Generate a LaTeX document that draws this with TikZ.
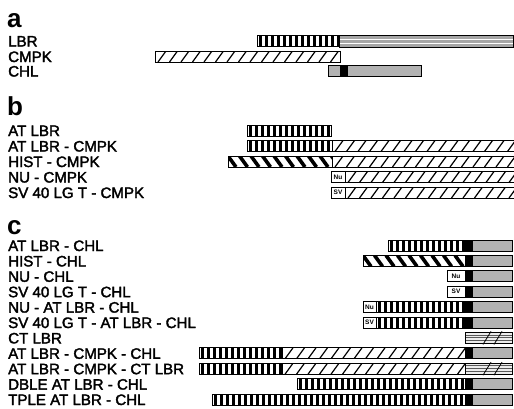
\documentclass[tikz,border=0pt]{standalone}
\usepackage{fontspec}
\setmainfont{Liberation Sans}
\newfontfamily\labfont[FakeBold=2.2]{Liberation Sans}
\tikzset{
  segline/.style={draw=black, line width=0.7pt},
  lab/.style={anchor=base west, inner sep=0pt, font=\labfont\fontsize{15.1}{15.5}\selectfont},
  panel/.style={anchor=base west, inner sep=0pt, font=\bfseries\fontsize{26}{27}\selectfont},
  tag/.style={inner sep=0pt, font=\bfseries\fontsize{6.5}{7}\selectfont}
}
% vertical stripes (AT LBR)
\newcommand\SegV[3]{%
  \begin{scope}
  \clip (#1,#3-5.5) rectangle (#2,#3+5.5);
  \fill[white] (#1,#3-5.5) rectangle (#2,#3+5.5);
  \pgfmathtruncatemacro\segN{(#2-#1)/6+1}
  \foreach \i in {0,...,\segN} \fill[black] (#1+2+6*\i,#3-5.5) rectangle ++(3.2,11);
  \end{scope}
  \draw[segline] (#1,#3-5.5) rectangle (#2,#3+5.5);}
% thin slashes (CMPK)
\newcommand\SegD[3]{%
  \begin{scope}
  \clip (#1,#3-5.5) rectangle (#2,#3+5.5);
  \fill[white] (#1,#3-5.5) rectangle (#2,#3+5.5);
  \pgfmathtruncatemacro\segN{(#2-#1)/11.5+1}
  \foreach \i in {-1,...,\segN} \draw[line width=1.2pt] (#1+3+11.5*\i,#3+5.5) -- ++(8,-11);
  \end{scope}
  \draw[segline] (#1,#3-5.5) rectangle (#2,#3+5.5);}
% thick back-slashes (HIST)
\newcommand\SegH[3]{%
  \begin{scope}
  \clip (#1,#3-5.5) rectangle (#2,#3+5.5);
  \fill[white] (#1,#3-5.5) rectangle (#2,#3+5.5);
  \pgfmathtruncatemacro\segN{(#2-#1)/11.5+1}
  \foreach \i in {-1,...,\segN} \draw[line width=3.6pt] (#1+11.5*\i,#3-5.5) -- ++(8,11);
  \end{scope}
  \draw[segline] (#1,#3-5.5) rectangle (#2,#3+5.5);}
% grey (CHL)
\newcommand\SegG[3]{%
  \fill[gray!60] (#1,#3-5.5) rectangle (#2,#3+5.5);
  \draw[segline] (#1,#3-5.5) rectangle (#2,#3+5.5);}
% black box
\newcommand\SegK[3]{%
  \fill[black] (#1,#3-5.5) rectangle (#2,#3+5.5);}
% grey with white lines (LBR C-terminal)
\newcommand\SegL[3]{%
  \fill[gray!70] (#1,#3-6) rectangle (#2,#3+6);
  \draw[white, line width=1pt] (#1,#3-1.5) -- (#2,#3-1.5);
  \draw[white, line width=0.7pt] (#1,#3+2) -- (#2,#3+2);
  \draw[segline] (#1,#3-6) rectangle (#2,#3+6);}
% CT LBR
\newcommand\SegC[3]{%
  \fill[gray!15] (#1,#3-5.5) rectangle (#2,#3+5.5);
  \foreach \d in {-2.8,0,2.8} \draw[gray!70!black, line width=0.9pt] (#1,#3+\d) -- (#2,#3+\d);
  \draw[segline] (#1,#3-5.5) rectangle (#2,#3+5.5);
  \draw[line width=0.8pt] (#1+18,#3+6.5) -- ++(8,-13);
  \draw[line width=0.8pt] (#1+29,#3+6.5) -- ++(8,-13);}
% labelled box (Nu / SV)
\newcommand\SegT[4]{%
  \fill[white] (#1,#3-5.5) rectangle (#2,#3+5.5);
  \draw[segline] (#1,#3-5.5) rectangle (#2,#3+5.5);
  \node[tag] at ({(#1+#2)/2},#3) {#4};}
\begin{document}
\begin{tikzpicture}[x=1pt,y=-1pt]
\useasboundingbox (0,0) rectangle (514,408);
\fill[white] (0,0) rectangle (514,408);
\begin{scope}
\clip (0,0) rectangle (514,408);
% ---------- panel a
\node[panel] (pa) at (7,27) {a};
\node[lab] (la1) at (8,46.5) {LBR};
\node[lab] (la2) at (8,62) {CMPK};
\node[lab] (la3) at (8,76.5) {CHL};
\SegL{339}{513}{41}
\SegV{257}{339}{41}
\SegD{155}{340}{56.5}
\SegG{328}{421}{71}
\SegK{340}{348}{71}
% ---------- panel b
\node[panel] (pb) at (7,115) {b};
\node[lab] (lb1) at (8,136) {AT LBR};
\node[lab] (lb2) at (8,151.5) {AT LBR - CMPK};
\node[lab] (lb3) at (8,167) {HIST - CMPK};
\node[lab] (lb4) at (8,182.5) {NU - CMPK};
\node[lab] (lb5) at (8,198) {SV 40 LG T - CMPK};
\SegV{247}{331}{130.5}
\SegD{332}{518}{146}
\SegV{247}{332}{146}
\SegD{332}{518}{161.5}
\SegH{228}{332}{161.5}
\SegD{345}{518}{177}
\SegT{331}{345}{177}{Nu}
\SegD{345}{518}{192.5}
\SegT{331}{345}{192.5}{SV}
% ---------- panel c
\node[panel] (pc) at (7,234) {c};
\node[lab] (lc1) at (8,251) {AT LBR - CHL};
\node[lab] (lc2) at (8,266.4) {HIST - CHL};
\node[lab] (lc3) at (8,281.8) {NU - CHL};
\node[lab] (lc4) at (8,297.2) {SV 40 LG T - CHL};
\node[lab] (lc5) at (8,312.6) {NU - AT LBR - CHL};
\node[lab] (lc6) at (8,328) {SV 40 LG T - AT LBR - CHL};
\node[lab] (lc7) at (8,343.4) {CT LBR};
\node[lab] (lc8) at (8,358.8) {AT LBR - CMPK - CHL};
\node[lab] (lc9) at (8,374.2) {AT LBR - CMPK - CT LBR};
\node[lab] (lc10) at (8,389.6) {DBLE AT LBR - CHL};
\node[lab] (lc11) at (8,405) {TPLE AT LBR - CHL};
% rows
\SegG{465}{512}{245.5}\SegK{465}{473}{245.5}\SegV{388}{465}{245.5}
\SegG{465}{512}{260.9}\SegK{465}{473}{260.9}\SegH{363}{465}{260.9}
\SegG{465}{512}{276.3}\SegK{465}{473}{276.3}\SegT{447}{465}{276.3}{Nu}
\SegG{465}{512}{291.7}\SegK{465}{473}{291.7}\SegT{447}{465}{291.7}{SV}
\SegG{465}{512}{307.1}\SegK{465}{473}{307.1}\SegV{376}{465}{307.1}\SegT{363}{376}{307.1}{Nu}
\SegG{465}{512}{322.5}\SegK{465}{473}{322.5}\SegV{376}{465}{322.5}\SegT{363}{376}{322.5}{SV}
\SegC{465}{512}{337.9}
\SegG{465}{512}{353.3}\SegK{465}{473}{353.3}\SegD{282}{465}{353.3}\SegV{199}{282}{353.3}
\SegC{465}{512}{368.7}\SegD{282}{465}{368.7}\SegV{199}{282}{368.7}
\SegG{465}{512}{384.1}\SegK{465}{473}{384.1}\SegV{297}{465}{384.1}
\SegG{465}{512}{399.5}\SegK{465}{473}{399.5}\SegV{212}{465}{399.5}
\end{scope}
\end{tikzpicture}
\end{document}
